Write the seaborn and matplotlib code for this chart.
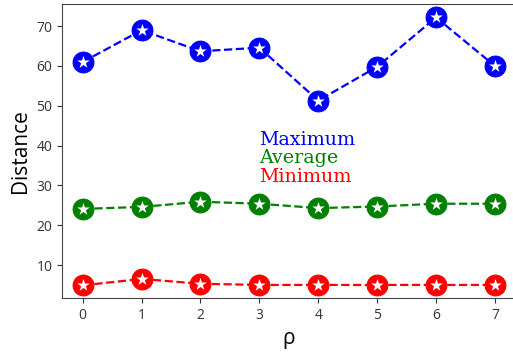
import matplotlib
matplotlib.use("Agg")
import matplotlib.pyplot as plt
import seaborn as sns
import pandas as pd

rho = [0, 1, 2, 3, 4, 5, 6, 7]
maximum = [61.0, 69.0, 63.7, 64.6, 51.3, 59.8, 72.2, 60.0]
average = [24.1, 24.6, 25.9, 25.4, 24.3, 24.7, 25.4, 25.4]
minimum = [4.9, 6.5, 5.3, 5.0, 5.0, 5.0, 5.0, 5.0]

series = [("Maximum", maximum, "blue"),
          ("Average", average, "green"),
          ("Minimum", minimum, "red")]

plt.rcParams['font.family'] = ['Open Sans', 'DejaVu Sans']

fig, ax = plt.subplots(figsize=(5.13, 3.54), dpi=100)
fig.subplots_adjust(left=0.121, right=1.005, top=0.989, bottom=0.158)

for name, vals, color in series:
    df = pd.DataFrame({"rho": rho, "dist": vals})
    sns.lineplot(data=df, x="rho", y="dist", color=color, linestyle="--",
                 linewidth=1.6, marker="o", markersize=15, markeredgecolor=color,
                 ax=ax)
    sns.scatterplot(data=df, x="rho", y="dist", color="white", marker="*",
                    s=90, linewidth=0, ax=ax, zorder=5)

ax.text(3, 41.4, "Maximum", color="blue", family="DejaVu Serif", fontsize=13.7,
        va="center", ha="left")
ax.text(3, 36.8, "Average", color="green", family="DejaVu Serif", fontsize=13.7,
        va="center", ha="left")
ax.text(3, 32.0, "Minimum", color="red", family="DejaVu Serif", fontsize=13.7,
        va="center", ha="left")

ax.set_xlim(-0.35, 7.35)
ax.set_ylim(1.7, 75.6)
ax.set_yticks([10, 20, 30, 40, 50, 60, 70])
ax.set_xticks(rho)
ax.tick_params(labelsize=10, colors="#333333")
ax.set_xlabel("ρ", fontsize=15)
ax.set_ylabel("Distance", fontsize=15)
for sp in ax.spines.values():
    sp.set_color("#444444")
ax.spines["right"].set_visible(False)

fig.savefig("out.png", dpi=100)
